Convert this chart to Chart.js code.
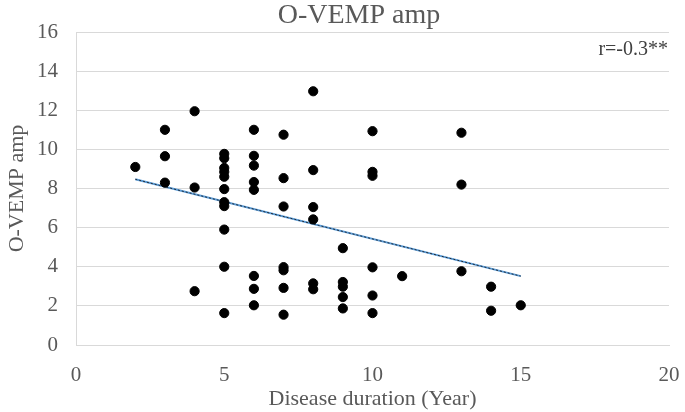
<!DOCTYPE html>
<html>
<head>
<meta charset="utf-8">
<script src="https://cdn.jsdelivr.net/npm/chart.js@4"></script>
<style>
  html, body { margin: 0; padding: 0; background: #fff; }
  #wrap { width: 685px; height: 412px; }
</style>
</head>
<body>
<div id="wrap"><canvas id="vempChart" width="685" height="412"></canvas></div>
<script>
// Disease duration (years) and O-VEMP amplitude
const durationYears = [
  2,
  3, 3, 3,
  4, 4, 4,
  5, 5, 5, 5, 5, 5, 5, 5, 5, 5, 5,
  6, 6, 6, 6, 6, 6, 6, 6,
  7, 7, 7, 7, 7, 7, 7,
  8, 8, 8, 8, 8, 8,
  9, 9, 9, 9, 9,
  10, 10, 10, 10, 10, 10,
  11,
  13, 13, 13,
  14, 14,
  15
];
const vempAmp = [
  9.1,
  11.0, 9.65, 8.3,
  11.95, 8.05, 2.75,
  9.77, 9.55, 9.05, 8.85, 8.6, 7.97, 7.3, 7.1, 5.9, 4.0, 1.63,
  11.0, 9.67, 9.17, 8.33, 7.93, 3.53, 2.87, 2.03,
  10.75, 8.53, 7.08, 3.98, 3.82, 2.92, 1.55,
  12.97, 8.94, 7.05, 6.42, 3.15, 2.85,
  4.95, 3.22, 2.98, 2.45, 1.87,
  10.93, 8.85, 8.65, 3.97, 2.53, 1.63,
  3.52,
  10.85, 8.2, 3.77,
  2.98, 1.75,
  2.03
];

// linear trend line end points
const trendX = [2, 15];
const trendY = [8.47, 3.52];

const xTicks = [0, 5, 10, 15, 20];
const yTicks = [0, 2, 4, 6, 8, 10, 12, 14, 16];
const chartTitle = "O-VEMP amp";
const corrLabel = "r=-0.3**";

const serif = "'Liberation Serif', 'Times New Roman', serif";
const grey = "#595959";

const points = durationYears.map((x, i) => ({ x: x, y: vempAmp[i] }));
const trend = trendX.map((x, i) => ({ x: x, y: trendY[i] }));

// title (sits a bit left of centre, like the original) and the r value
const textBits = {
  id: "textBits",
  afterDraw(chart) {
    const c = chart.ctx;
    const area = chart.chartArea;
    const ys = chart.scales.y;
    c.save();
    c.fillStyle = grey;
    c.textAlign = "center";
    c.textBaseline = "alphabetic";
    c.font = "28px " + serif;
    c.fillText(chartTitle, 359, 23);

    c.font = "20px " + serif;
    c.fillStyle = "#404040";
    c.textAlign = "right";
    c.textBaseline = "middle";
    c.fillText(corrLabel, area.right - 1, ys.getPixelForValue(15.1));
    c.restore();
  }
};

new Chart(document.getElementById("vempChart"), {
  type: "scatter",
  data: {
    datasets: [
      {
        label: "trend",
        data: trend,
        type: "line",
        borderColor: "#5b9bd5",
        borderWidth: 2,
        pointRadius: 0,
        order: 3
      },
      {
        label: "trend dots",
        data: trend,
        type: "line",
        borderColor: "#1f2d3d",
        borderWidth: 1,
        borderDash: [2, 2],
        pointRadius: 0,
        order: 2
      },
      {
        label: "O-VEMP amp",
        data: points,
        backgroundColor: "#000",
        borderColor: "#000",
        pointRadius: 4.6,
        pointHoverRadius: 4.6,
        order: 1
      }
    ]
  },
  options: {
    responsive: false,
    animation: false,
    layout: { padding: { left: 0, right: 16, top: 32, bottom: 0 } },
    plugins: {
      legend: { display: false },
      tooltip: { enabled: false }
    },
    scales: {
      x: {
        type: "linear",
        min: 0,
        max: 20,
        afterBuildTicks: (axis) => { axis.ticks = xTicks.map(v => ({ value: v })); },
        afterFit: (axis) => {
          axis.height = 67;
          // the tick padding is meant for vertical spacing only
          axis.paddingLeft = 0;
          axis.paddingRight = 0;
        },
        grid: { display: false, drawTicks: false },
        border: { color: "#d9d9d9" },
        ticks: { color: grey, font: { family: serif, size: 21 }, padding: 18 },
        title: {
          display: true,
          text: "Disease duration (Year)",
          color: grey,
          font: { family: serif, size: 22 },
          padding: { top: 0, bottom: 0 }
        }
      },
      y: {
        min: 0,
        max: 16,
        afterBuildTicks: (axis) => { axis.ticks = yTicks.map(v => ({ value: v })); },
        afterFit: (axis) => { axis.width = 76; },
        grid: { color: "#d9d9d9", drawTicks: false },
        border: { color: "#d9d9d9" },
        ticks: { color: grey, font: { family: serif, size: 21 }, padding: 18 },
        title: {
          display: true,
          text: "O-VEMP amp",
          color: grey,
          font: { family: serif, size: 22 },
          padding: { top: 4, bottom: 0 }
        }
      }
    }
  },
  plugins: [textBits]
});
</script>
</body>
</html>
